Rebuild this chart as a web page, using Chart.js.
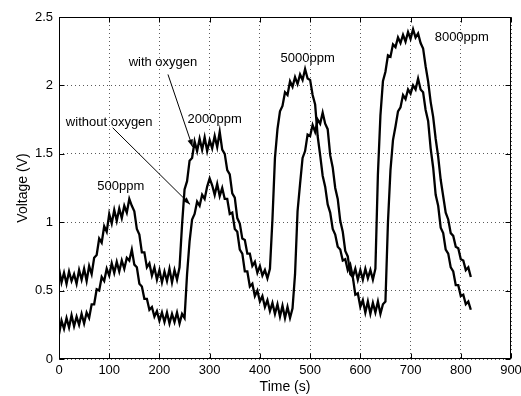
<!DOCTYPE html>
<html>
<head>
<meta charset="utf-8">
<script src="https://cdn.jsdelivr.net/npm/chart.js@4.4.1/dist/chart.umd.min.js"></script>
<style>
    html, body { margin: 0; padding: 0; background: #fff; }
    #wrap { width: 521px; height: 396px; position: relative; }
</style>
</head>
<body>
<div id="wrap"><canvas id="chart"></canvas></div>
<script>
// Time axis (s), one sample every 5 s
const times = [
    0, 5, 10, 15, 20, 25, 30, 35, 40, 45,
    50, 55, 60, 65, 70, 75, 80, 85, 90, 95,
    100, 105, 110, 115, 120, 125, 130, 135, 140, 145,
    150, 155, 160, 165, 170, 175, 180, 185, 190, 195,
    200, 205, 210, 215, 220, 225, 230, 235, 240, 245,
    250, 255, 260, 265, 270, 275, 280, 285, 290, 295,
    300, 305, 310, 315, 320, 325, 330, 335, 340, 345,
    350, 355, 360, 365, 370, 375, 380, 385, 390, 395,
    400, 405, 410, 415, 420, 425, 430, 435, 440, 445,
    450, 455, 460, 465, 470, 475, 480, 485, 490, 495,
    500, 505, 510, 515, 520, 525, 530, 535, 540, 545,
    550, 555, 560, 565, 570, 575, 580, 585, 590, 595,
    600, 605, 610, 615, 620, 625, 630, 635, 640, 645,
    650, 655, 660, 665, 670, 675, 680, 685, 690, 695,
    700, 705, 710, 715, 720, 725, 730, 735, 740, 745,
    750, 755, 760, 765, 770, 775, 780, 785, 790, 795,
    800, 805, 810, 815, 820
];

// Sensor voltage (V) with oxygen
const withOxygen = [
    0.66, 0.56, 0.63, 0.55, 0.64, 0.57, 0.62, 0.55, 0.65, 0.58,
    0.66, 0.57, 0.68, 0.62, 0.74, 0.76, 0.88, 0.85, 0.97, 0.93,
    1.06, 0.99, 1.09, 1.01, 1.10, 1.03, 1.12, 1.07, 1.17, 1.12,
    1.08, 0.95, 0.91, 0.78, 0.78, 0.67, 0.70, 0.61, 0.67, 0.58,
    0.65, 0.56, 0.64, 0.57, 0.66, 0.56, 0.65, 0.58, 0.67, 0.98,
    1.24, 1.30, 1.45, 1.47, 1.59, 1.52, 1.61, 1.53, 1.62, 1.52,
    1.60, 1.54, 1.63, 1.55, 1.66, 1.53, 1.50, 1.38, 1.35, 1.21,
    1.18, 1.03, 0.99, 0.88, 0.87, 0.77, 0.77, 0.68, 0.71, 0.63,
    0.68, 0.61, 0.65, 0.59, 0.66, 1.02, 1.47, 1.68, 1.81, 1.85,
    1.95, 1.93, 2.03, 1.99, 2.06, 2.01, 2.08, 2.04, 2.12, 2.05,
    2.04, 1.93, 1.86, 1.63, 1.49, 1.34, 1.26, 1.13, 1.07, 0.95,
    0.91, 0.82, 0.80, 0.72, 0.73, 0.65, 0.69, 0.60, 0.66, 0.58,
    0.65, 0.58, 0.66, 0.59, 0.65, 0.58, 0.66, 1.35, 1.78, 2.03,
    2.10, 2.22, 2.21, 2.30, 2.28, 2.35, 2.31, 2.37, 2.32, 2.39,
    2.34, 2.41, 2.35, 2.38, 2.31, 2.27, 2.14, 2.03, 1.88, 1.77,
    1.61, 1.48, 1.31, 1.19, 1.07, 1.02, 0.92, 0.90, 0.82, 0.81,
    0.73, 0.72, 0.65, 0.67, 0.60
];

// Sensor voltage (V) without oxygen
const withoutOxygen = [
    0.18, 0.28, 0.22, 0.30, 0.23, 0.32, 0.24, 0.31, 0.25, 0.33,
    0.26, 0.34, 0.30, 0.40, 0.40, 0.51, 0.50, 0.60, 0.57, 0.66,
    0.61, 0.70, 0.63, 0.71, 0.64, 0.72, 0.66, 0.74, 0.72, 0.80,
    0.69, 0.67, 0.55, 0.53, 0.44, 0.44, 0.36, 0.38, 0.31, 0.35,
    0.28, 0.34, 0.27, 0.34, 0.26, 0.33, 0.27, 0.34, 0.26, 0.33,
    0.30, 0.62, 0.86, 1.02, 1.06, 1.15, 1.12, 1.20, 1.17, 1.26,
    1.32, 1.27, 1.20, 1.28, 1.19, 1.25, 1.17, 1.17, 1.06, 1.07,
    0.95, 0.93, 0.80, 0.77, 0.64, 0.64, 0.53, 0.55, 0.46, 0.50,
    0.42, 0.46, 0.38, 0.43, 0.35, 0.41, 0.33, 0.40, 0.31, 0.39,
    0.30, 0.38, 0.30, 0.37, 0.62, 1.08, 1.28, 1.47, 1.52, 1.64,
    1.63, 1.71, 1.66, 1.75, 1.72, 1.80, 1.72, 1.68, 1.49, 1.40,
    1.25, 1.17, 1.01, 0.93, 0.79, 0.75, 0.62, 0.60, 0.47, 0.48,
    0.38, 0.43, 0.34, 0.42, 0.33, 0.41, 0.34, 0.42, 0.33, 0.40,
    0.42, 1.00, 1.38, 1.60, 1.70, 1.81, 1.84, 1.93, 1.90, 1.97,
    1.94, 2.00, 1.97, 2.05, 1.97, 1.95, 1.82, 1.74, 1.54, 1.40,
    1.20, 1.12, 0.96, 0.92, 0.80, 0.77, 0.67, 0.64, 0.54, 0.54,
    0.46, 0.47, 0.40, 0.42, 0.36
];

// Axis ticks
const xTicks = [0, 100, 200, 300, 400, 500, 600, 700, 800, 900];
const xTickLabels = ['0', '100', '200', '300', '400', '500', '600', '700', '800', '900'];
const yTicks = [0, 0.5, 1, 1.5, 2, 2.5];
const yTickLabels = ['0', '0.5', '1', '1.5', '2', '2.5'];

// Text labels placed in data units (time, voltage)
const notes = [
    { text: 'with oxygen', t: 207, v: 2.17 },
    { text: 'without oxygen', t: 100, v: 1.73 },
    { text: '2000ppm', t: 310, v: 1.75 },
    { text: '500ppm', t: 123, v: 1.26 },
    { text: '5000ppm', t: 495, v: 2.2 },
    { text: '8000ppm', t: 802, v: 2.35 }
];
const arrows = [
    { from: [217, 2.08], to: [266, 1.55] },
    { from: [107, 1.69], to: [261, 1.13] }
];

const FONT = 'Arial, "Liberation Sans", sans-serif';
Chart.defaults.font.family = FONT;
Chart.defaults.color = '#000';

// Box, inward ticks, axis titles and annotations (MATLAB style)
const framePlugin = {
    id: 'frame',
    afterDraw(chart) {
        const { ctx, chartArea: a, scales: { x, y } } = chart;
        const L = Math.round(a.left) + 0.5;
        const R = Math.round(a.right) - 0.5;
        const T = Math.round(a.top) + 0.5;
        const B = Math.round(a.bottom) - 0.5;
        ctx.save();
        ctx.strokeStyle = '#000';
        ctx.lineWidth = 1;
        ctx.strokeRect(L, T, R - L, B - T);

        ctx.beginPath();
        xTicks.forEach(v => {
            const px = Math.round(x.getPixelForValue(v)) + 0.5;
            ctx.moveTo(px, B); ctx.lineTo(px, B - 5);
            ctx.moveTo(px, T); ctx.lineTo(px, T + 5);
        });
        yTicks.forEach(v => {
            const py = Math.round(y.getPixelForValue(v)) + 0.5;
            ctx.moveTo(L, py); ctx.lineTo(L + 5, py);
            ctx.moveTo(R, py); ctx.lineTo(R - 5, py);
        });
        ctx.stroke();

        // axis titles
        ctx.fillStyle = '#000';
        ctx.font = '14px ' + FONT;
        ctx.textAlign = 'center';
        ctx.textBaseline = 'alphabetic';
        ctx.fillText('Time (s)', (a.left + a.right) / 2, 391);
        ctx.save();
        ctx.translate(27, (a.top + a.bottom) / 2);
        ctx.rotate(-Math.PI / 2);
        ctx.fillText('Voltage (V)', 0, 0);
        ctx.restore();

        // annotations
        ctx.font = '13px ' + FONT;
        ctx.textBaseline = 'middle';
        notes.forEach(n => {
            ctx.fillText(n.text, x.getPixelForValue(n.t), y.getPixelForValue(n.v));
        });

        arrows.forEach(ar => {
            const x1 = x.getPixelForValue(ar.from[0]), y1 = y.getPixelForValue(ar.from[1]);
            const x2 = x.getPixelForValue(ar.to[0]), y2 = y.getPixelForValue(ar.to[1]);
            const ang = Math.atan2(y2 - y1, x2 - x1);
            ctx.beginPath();
            ctx.moveTo(x1, y1);
            ctx.lineTo(x2, y2);
            ctx.stroke();
            ctx.beginPath();
            ctx.moveTo(x2, y2);
            ctx.lineTo(x2 - 8 * Math.cos(ang - 0.35), y2 - 8 * Math.sin(ang - 0.35));
            ctx.lineTo(x2 - 8 * Math.cos(ang + 0.35), y2 - 8 * Math.sin(ang + 0.35));
            ctx.closePath();
            ctx.fill();
        });
        ctx.restore();
    }
};

const lineStyle = {
    borderColor: '#000',
    borderWidth: 2.3,
    borderJoinStyle: 'miter',
    pointRadius: 0,
    tension: 0,
    fill: false
};

new Chart(document.getElementById('chart'), {
    type: 'line',
    data: {
        datasets: [
            { ...lineStyle, label: 'with oxygen', data: times.map((t, i) => ({ x: t, y: withOxygen[i] })) },
            { ...lineStyle, label: 'without oxygen', data: times.map((t, i) => ({ x: t, y: withoutOxygen[i] })) }
        ]
    },
    options: {
        responsive: true,
        maintainAspectRatio: false,
        animation: false,
        devicePixelRatio: 1,
        layout: { padding: { top: 17, right: 10, left: 0, bottom: 0 } },
        plugins: {
            legend: { display: false },
            tooltip: { enabled: false }
        },
        scales: {
            x: {
                type: 'linear',
                min: 0,
                max: 900,
                afterBuildTicks: s => { s.ticks = xTicks.map(v => ({ value: v })); },
                afterFit: s => { s.height = 37; s.paddingLeft = 0; s.paddingRight = 0; },
                ticks: {
                    autoSkip: false,
                    maxRotation: 0,
                    padding: 4,
                    font: { size: 13 },
                    callback: (v, i) => xTickLabels[i]
                },
                grid: { color: '#5a5a5a', lineWidth: 1, drawTicks: false },
                border: { display: false, dash: [1, 3] }
            },
            y: {
                min: 0,
                max: 2.5,
                afterBuildTicks: s => { s.ticks = yTicks.map(v => ({ value: v })); },
                afterFit: s => { s.width = 59; s.paddingTop = 0; s.paddingBottom = 0; },
                ticks: {
                    padding: 6,
                    font: { size: 13 },
                    callback: (v, i) => yTickLabels[i]
                },
                grid: { color: '#5a5a5a', lineWidth: 1, drawTicks: false },
                border: { display: false, dash: [1, 3] }
            }
        }
    },
    plugins: [framePlugin]
});
</script>
</body>
</html>
